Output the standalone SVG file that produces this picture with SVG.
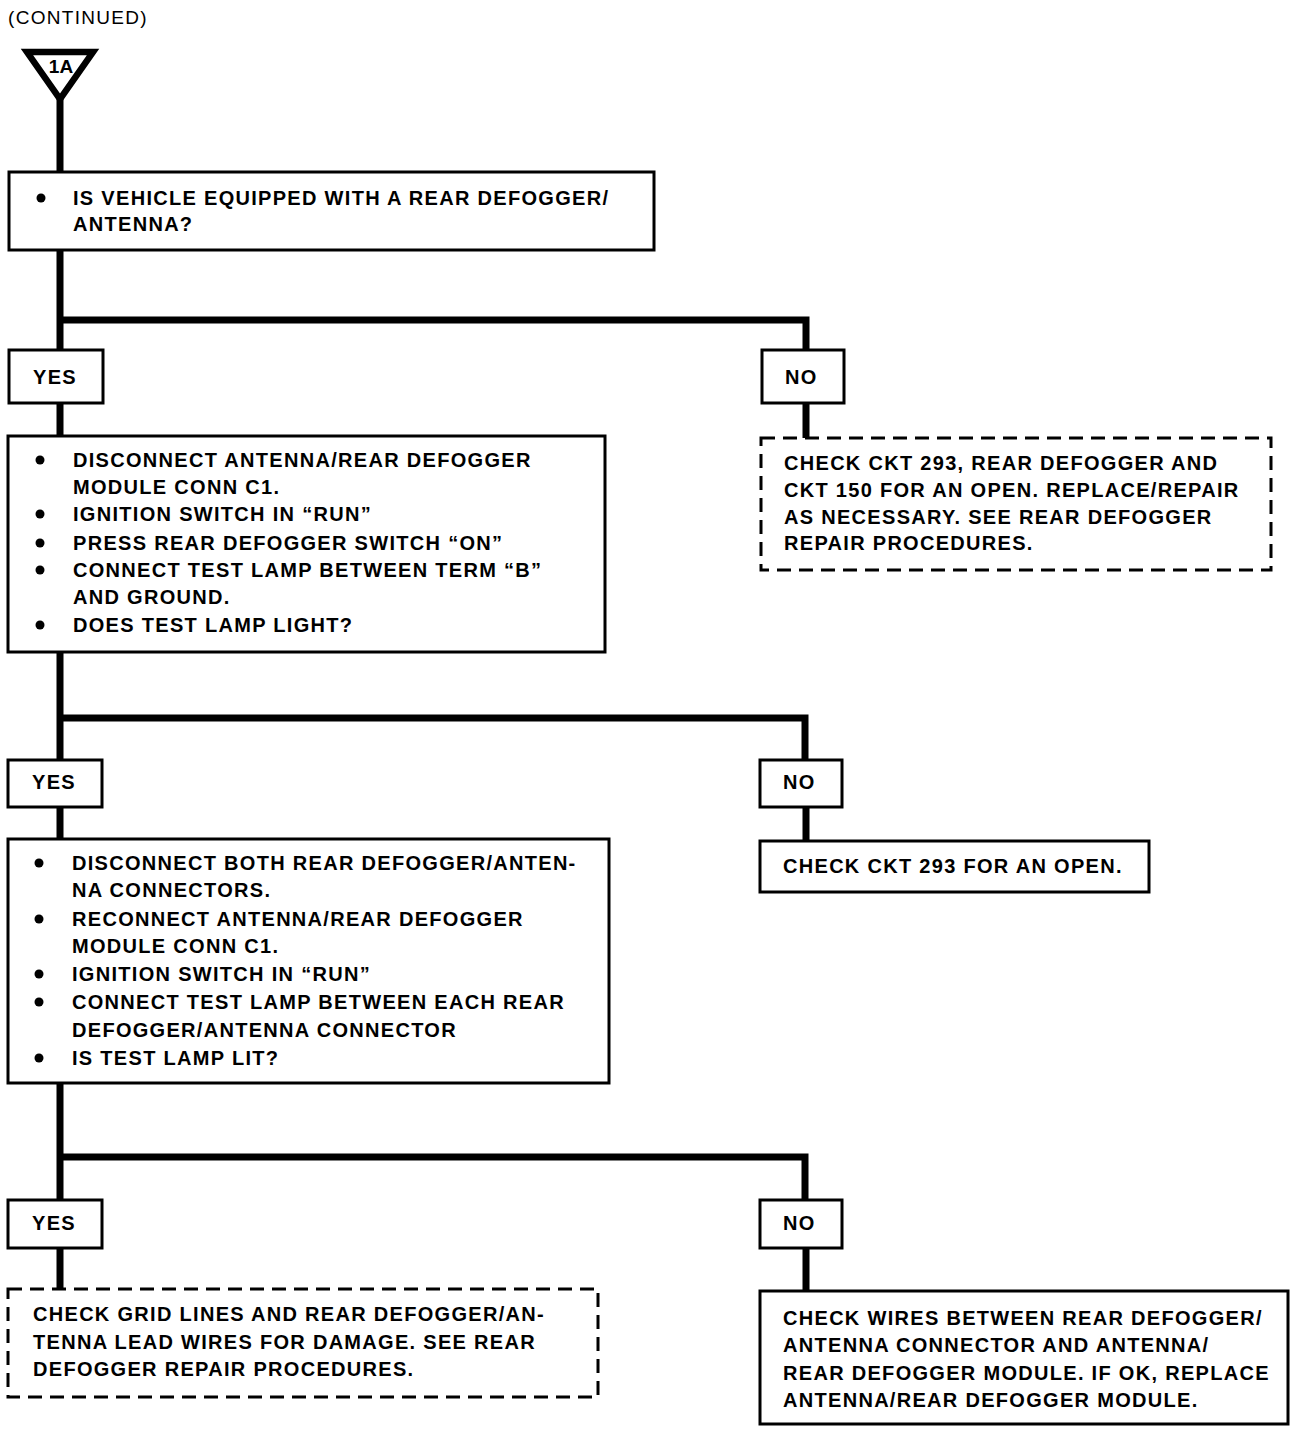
<svg xmlns="http://www.w3.org/2000/svg" width="1312" height="1434" viewBox="0 0 1312 1434">
<style>
text{font-family:"Liberation Sans",Arial,sans-serif;font-weight:bold;font-size:20px;letter-spacing:1.3px;fill:#000}
.box{fill:#fff;stroke:#000;stroke-width:3}
.dash{fill:#fff;stroke:#000;stroke-width:3;stroke-dasharray:14 8}
.con{fill:none;stroke:#000;stroke-width:7}
</style>
<rect width="1312" height="1434" fill="#fff"/>
<text x="8" y="24" style="font-weight:normal;font-size:19px">(CONTINUED)</text>
<g id="connectors">
<path class="con" d="M60 95 V172"/>
<path class="con" d="M60 250 V350 M60 320 H806 V350"/>
<path class="con" d="M60 403 V436 M806 403 V438"/>
<path class="con" d="M60 652 V760 M60 718 H805 V760"/>
<path class="con" d="M60 807 V839 M806 807 V841"/>
<path class="con" d="M60 1083 V1200 M60 1157 H805 V1200"/>
<path class="con" d="M60 1248 V1289 M806 1248 V1291"/>
</g>
<g id="start">
<polygon points="27,52 93,52 60,99" fill="#fff" stroke="#000" stroke-width="6.5" stroke-linejoin="miter"/>
<text x="61" y="73" text-anchor="middle" style="font-size:19px;letter-spacing:0">1A</text>
</g>
<g id="q1">
<rect class="box" x="9" y="172" width="645" height="78"/>
<circle cx="41" cy="198" r="4.5"/>
<text x="73" y="205">IS VEHICLE EQUIPPED WITH A REAR DEFOGGER/</text>
<text x="73" y="231">ANTENNA?</text>
</g>
<g id="yes1"><rect class="box" x="9" y="350" width="94" height="53"/><text x="33" y="384">YES</text></g>
<g id="no1"><rect class="box" x="762" y="350" width="82" height="53"/><text x="785" y="384">NO</text></g>
<g id="q2">
<rect class="box" x="8" y="436" width="597" height="216"/>
<circle cx="40" cy="460" r="4.5"/><circle cx="40" cy="514" r="4.5"/><circle cx="40" cy="543" r="4.5"/><circle cx="40" cy="570" r="4.5"/><circle cx="40" cy="625" r="4.5"/>
<text x="73" y="467">DISCONNECT ANTENNA/REAR DEFOGGER</text>
<text x="73" y="494">MODULE CONN C1.</text>
<text x="73" y="521">IGNITION SWITCH IN “RUN”</text>
<text x="73" y="550">PRESS REAR DEFOGGER SWITCH “ON”</text>
<text x="73" y="577">CONNECT TEST LAMP BETWEEN TERM “B”</text>
<text x="73" y="604">AND GROUND.</text>
<text x="73" y="632">DOES TEST LAMP LIGHT?</text>
</g>
<g id="r1">
<rect class="dash" x="761" y="438" width="510" height="132"/>
<text x="784" y="470">CHECK CKT 293, REAR DEFOGGER AND</text>
<text x="784" y="497">CKT 150 FOR AN OPEN. REPLACE/REPAIR</text>
<text x="784" y="524">AS NECESSARY. SEE REAR DEFOGGER</text>
<text x="784" y="550">REPAIR PROCEDURES.</text>
</g>
<g id="yes2"><rect class="box" x="8" y="760" width="94" height="47"/><text x="32" y="789">YES</text></g>
<g id="no2"><rect class="box" x="760" y="760" width="82" height="47"/><text x="783" y="789">NO</text></g>
<g id="q3">
<rect class="box" x="8" y="839" width="601" height="244"/>
<circle cx="39" cy="863" r="4.5"/><circle cx="39" cy="919" r="4.5"/><circle cx="39" cy="974" r="4.5"/><circle cx="39" cy="1002" r="4.5"/><circle cx="39" cy="1058" r="4.5"/>
<text x="72" y="870">DISCONNECT BOTH REAR DEFOGGER/ANTEN-</text>
<text x="72" y="897">NA CONNECTORS.</text>
<text x="72" y="926">RECONNECT ANTENNA/REAR DEFOGGER</text>
<text x="72" y="953">MODULE CONN C1.</text>
<text x="72" y="981">IGNITION SWITCH IN “RUN”</text>
<text x="72" y="1009">CONNECT TEST LAMP BETWEEN EACH REAR</text>
<text x="72" y="1037">DEFOGGER/ANTENNA CONNECTOR</text>
<text x="72" y="1065">IS TEST LAMP LIT?</text>
</g>
<g id="r2">
<rect class="box" x="760" y="841" width="389" height="51"/>
<text x="783" y="873">CHECK CKT 293 FOR AN OPEN.</text>
</g>
<g id="yes3"><rect class="box" x="8" y="1200" width="94" height="48"/><text x="32" y="1230">YES</text></g>
<g id="no3"><rect class="box" x="760" y="1200" width="82" height="48"/><text x="783" y="1230">NO</text></g>
<g id="r3">
<rect class="dash" x="8" y="1289" width="590" height="108"/>
<text x="33" y="1321">CHECK GRID LINES AND REAR DEFOGGER/AN-</text>
<text x="33" y="1349">TENNA LEAD WIRES FOR DAMAGE. SEE REAR</text>
<text x="33" y="1376">DEFOGGER REPAIR PROCEDURES.</text>
</g>
<g id="r4">
<rect class="box" x="760" y="1291" width="528" height="133"/>
<text x="783" y="1325">CHECK WIRES BETWEEN REAR DEFOGGER/</text>
<text x="783" y="1352">ANTENNA CONNECTOR AND ANTENNA/</text>
<text x="783" y="1380">REAR DEFOGGER MODULE. IF OK, REPLACE</text>
<text x="783" y="1407">ANTENNA/REAR DEFOGGER MODULE.</text>
</g>
</svg>
